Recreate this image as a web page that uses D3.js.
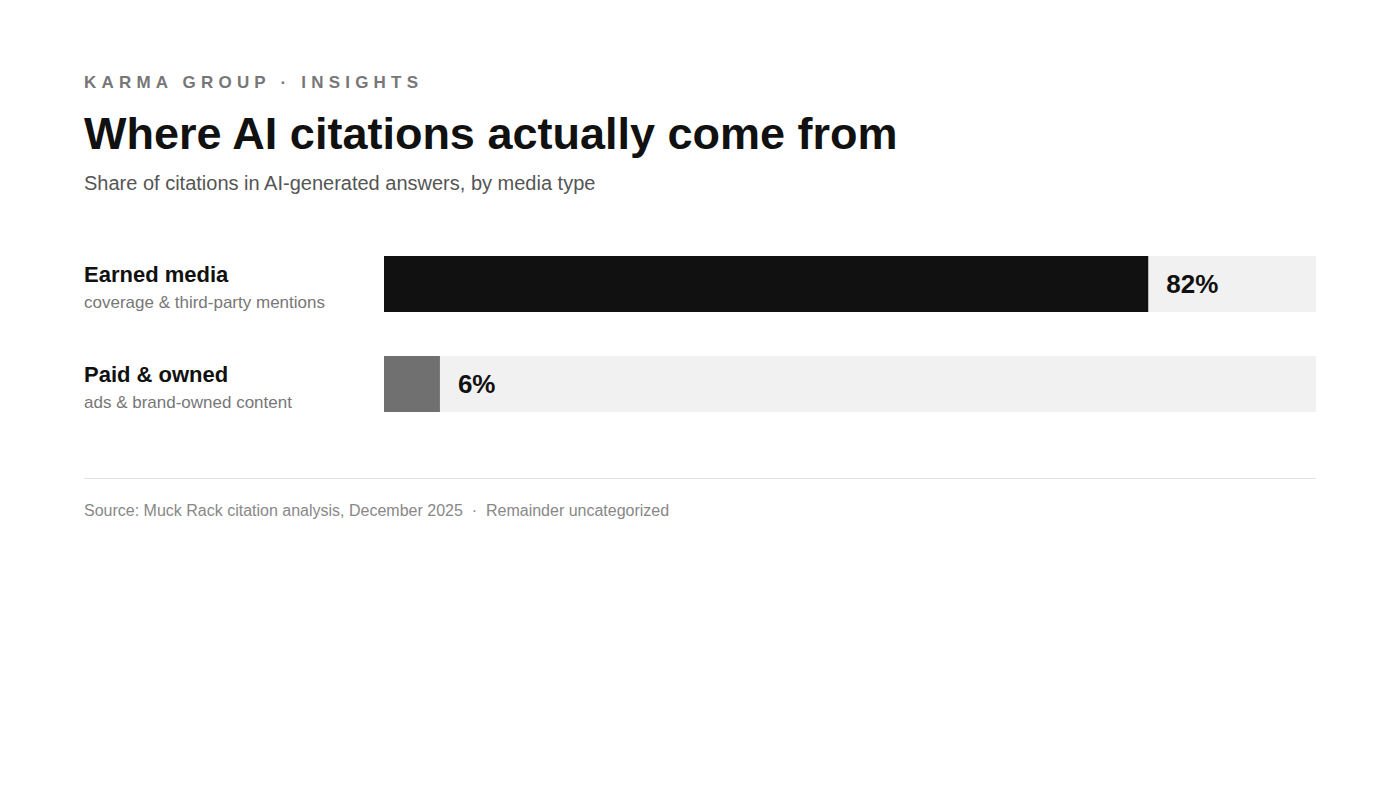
<!DOCTYPE html>
<html>
<head>
<meta charset="utf-8">
<script src="https://cdn.jsdelivr.net/npm/d3@7"></script>
<style>
  body { margin: 0; background: #fff; }
  svg { font-family: "Liberation Sans", Arial, sans-serif; }
</style>
</head>
<body>
<svg id="chart" width="1400" height="800"></svg>
<script>
// data
var categories = ["Earned media", "Paid & owned"];
var descriptions = ["coverage & third-party mentions", "ads & brand-owned content"];
var shares = [82, 6];
var barColors = ["#111111", "#707070"];

var svg = d3.select("#chart");
var left = 84, right = 1316, trackX = 384;

// cabeçalho
svg.append("text").attr("x", left).attr("y", 88)
    .attr("font-size", 17).attr("font-weight", "bold").attr("fill", "#777")
    .attr("letter-spacing", "5.2px")
    .text("KARMA GROUP  ·  INSIGHTS");
svg.append("text").attr("x", left).attr("y", 149)
    .attr("font-size", 45).attr("font-weight", "bold").attr("fill", "#111")
    .text("Where AI citations actually come from");
svg.append("text").attr("x", left).attr("y", 190)
    .attr("font-size", 20).attr("fill", "#555")
    .text("Share of citations in AI-generated answers, by media type");

var x = d3.scaleLinear().domain([0, 100]).range([trackX, right]);
var y = d3.scaleBand().domain(categories).range([256, 456]).paddingInner(44 / 100).paddingOuter(0);
y.range([256, 256 + 56 * 2 + 44]);

var rows = svg.selectAll("g.row").data(categories).enter().append("g").attr("class", "row")
    .attr("transform", function(d) { return "translate(0," + y(d) + ")"; });

rows.append("rect").attr("x", x(0)).attr("width", x(100) - x(0))
    .attr("height", y.bandwidth()).attr("fill", "#f1f1f1");
rows.append("rect").attr("x", x(0))
    .attr("width", function(d, i) { return x(shares[i]) - x(0); })
    .attr("height", y.bandwidth())
    .attr("fill", function(d, i) { return barColors[i]; });
rows.append("text")
    .attr("x", function(d, i) { return x(shares[i]) + 18; })
    .attr("y", y.bandwidth() / 2 + 9)
    .attr("font-size", 26).attr("font-weight", "bold").attr("fill", "#111")
    .text(function(d, i) { return shares[i] + "%"; });

rows.append("text").attr("x", left).attr("y", 26)
    .attr("font-size", 22).attr("font-weight", "bold").attr("fill", "#111")
    .text(function(d) { return d; });
rows.append("text").attr("x", left).attr("y", 52)
    .attr("font-size", 17).attr("fill", "#777")
    .text(function(d, i) { return descriptions[i]; });

// rodapé
svg.append("line").attr("x1", left).attr("x2", right).attr("y1", 478.5).attr("y2", 478.5)
    .attr("stroke", "#e3e3e3");
svg.append("text").attr("x", left).attr("y", 516)
    .attr("font-size", 16).attr("fill", "#888")
    .text("Source: Muck Rack citation analysis, December 2025  ·  Remainder uncategorized")
    .attr("xml:space", "preserve").style("white-space", "pre");
</script>
</body>
</html>
